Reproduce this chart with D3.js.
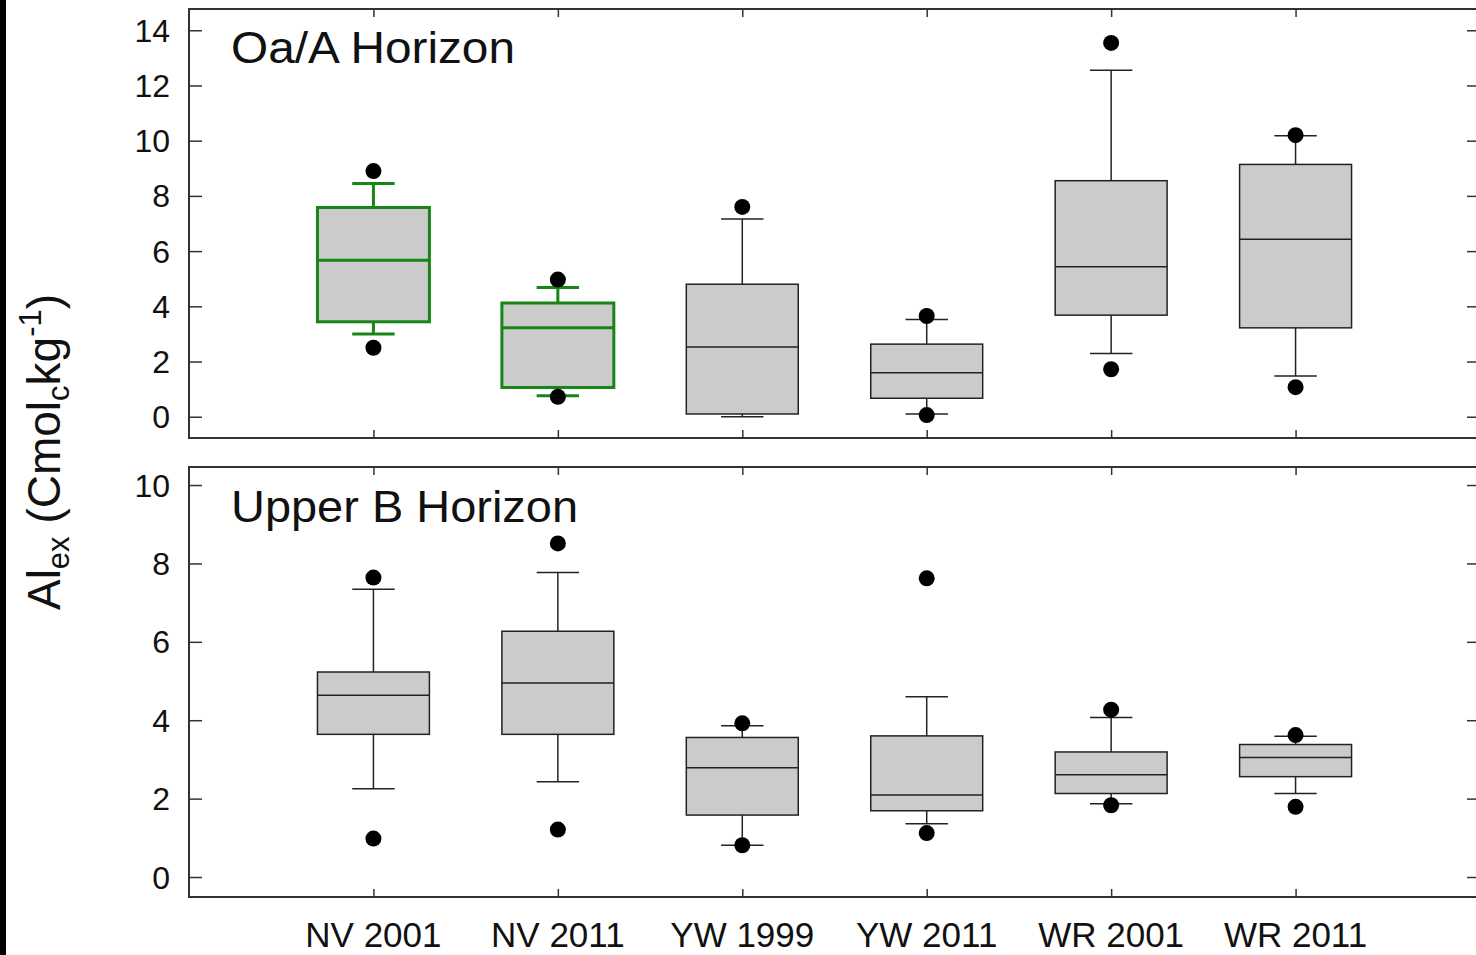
<!DOCTYPE html>
<html><head><meta charset="utf-8">
<script src="https://cdn.jsdelivr.net/npm/d3@7"></script>
<style>html,body{margin:0;padding:0;background:#fff;overflow:hidden}text{font-family:Arial,"Liberation Sans",sans-serif;fill:#111}</style>
</head><body><svg id="c" width="1476" height="955"></svg>
<script>
const categories = ["NV 2001","NV 2011","YW 1999","YW 2011","WR 2001","WR 2011"];
// Oa/A horizon: upper outlier, upper whisker, Q3, median, Q1, lower whisker, lower outlier
const oaHiOut  = [8.9, 4.97, 7.6, 3.65, 13.54, 10.2];
const oaWhHi   = [8.45, 4.68, 7.16, 3.52, 12.55, 10.18];
const oaQ3     = [7.58, 4.12, 4.8, 2.63, 8.55, 9.14];
const oaMed    = [5.67, 3.22, 2.53, 1.59, 5.43, 6.43];
const oaQ1     = [3.44, 1.06, 0.1, 0.67, 3.68, 3.22];
const oaWhLo   = [3.0, 0.76, 0.0, 0.1, 2.29, 1.48];
const oaLoOut  = [2.5, 0.72, null, 0.06, 1.72, 1.07];
const oaHighlight = [true, true, false, false, false, false];
// Upper B horizon
const bHiOut  = [7.64, 8.51, 3.92, 7.62, 4.27, 3.62];
const bWhHi   = [7.34, 7.77, 3.86, 4.60, 4.07, 3.59];
const bQ3     = [5.23, 6.27, 3.56, 3.60, 3.19, 3.38];
const bMed    = [4.64, 4.95, 2.79, 2.09, 2.61, 3.05];
const bQ1     = [3.64, 3.64, 1.58, 1.69, 2.13, 2.56];
const bWhLo   = [2.25, 2.43, 0.81, 1.36, 1.87, 2.13];
const bLoOut  = [0.98, 1.21, 0.81, 1.12, 1.83, 1.79];
const oaTicks = [0,2,4,6,8,10,12,14];
const bTicks  = [0,2,4,6,8,10];
const panelTitles = ["Oa/A Horizon","Upper B Horizon"];

const svg = d3.select("#c");
svg.append("rect").attr("x",0).attr("y",0).attr("width",1476).attr("height",955).attr("fill","#fff");
svg.append("rect").attr("x",0).attr("y",0).attr("width",6).attr("height",955).attr("fill","#000");

const L = 189, R = 1480;
const x = d3.scalePoint().domain(categories).range([L, R]).padding(1);
const step = x.step();
const boxW = step * 0.607, capW = step * 0.23;

function panel(cfg){
  const y = d3.scaleLinear().domain(cfg.domain).range([cfg.bottom, cfg.top]);
  const g = svg.append("g");
  g.append("rect").attr("x",L).attr("y",cfg.top).attr("width",R-L).attr("height",cfg.bottom-cfg.top)
    .attr("fill","none").attr("stroke","#333").attr("stroke-width",2);
  const ax = d3.axisRight(y).tickValues(cfg.ticks).tickSize(13).tickFormat("");
  const ga = g.append("g").attr("transform",`translate(${L},0)`).call(ax);
  ga.select(".domain").remove();
  ga.selectAll("line").attr("stroke","#333").attr("stroke-width",1.5);
  const axr = d3.axisLeft(y).tickValues(cfg.ticks).tickSize(13).tickFormat("");
  const gr = g.append("g").attr("transform",`translate(${R},0)`).call(axr);
  gr.select(".domain").remove();
  gr.selectAll("line").attr("stroke","#333").attr("stroke-width",1.5);
  g.selectAll(".yl").data(cfg.ticks).join("text")
    .attr("x",170).attr("y",d=>y(d)).attr("dy","0.36em").attr("text-anchor","end")
    .attr("font-size",32).text(d=>d);
  const xb = d3.axisTop(x).tickSize(8).tickFormat("");
  const gxb = g.append("g").attr("transform",`translate(0,${cfg.bottom})`).call(xb);
  gxb.select(".domain").remove();
  gxb.selectAll("line").attr("stroke","#333").attr("stroke-width",1.5);
  const xt = d3.axisBottom(x).tickSize(8).tickFormat("");
  const gxt = g.append("g").attr("transform",`translate(0,${cfg.top})`).call(xt);
  gxt.select(".domain").remove();
  gxt.selectAll("line").attr("stroke","#333").attr("stroke-width",1.5);
  g.append("text").attr("x",231).attr("y",cfg.titleY).attr("font-size",45)
    .attr("textLength",cfg.titleLen).attr("lengthAdjust","spacingAndGlyphs").text(cfg.title);
  const rows = categories.map((c,i)=>({c, hiOut:cfg.hiOut[i], whHi:cfg.whHi[i], q3:cfg.q3[i], med:cfg.med[i], q1:cfg.q1[i], whLo:cfg.whLo[i], loOut:cfg.loOut[i], hl:cfg.hl?cfg.hl[i]:false}));
  const col = d=> d.hl ? "#178617" : "#222";
  const sw = d=> d.hl ? 3 : 1.5;
  const bg = g.selectAll(".box").data(rows).join("g");
  bg.append("line").attr("x1",d=>x(d.c)).attr("x2",d=>x(d.c)).attr("y1",d=>y(d.whHi)).attr("y2",d=>y(d.q3)).attr("stroke",col).attr("stroke-width",sw);
  bg.append("line").attr("x1",d=>x(d.c)).attr("x2",d=>x(d.c)).attr("y1",d=>y(d.q1)).attr("y2",d=>y(d.whLo)).attr("stroke",col).attr("stroke-width",sw);
  bg.append("rect").attr("x",d=>x(d.c)-boxW/2).attr("width",boxW).attr("y",d=>y(d.q3)).attr("height",d=>y(d.q1)-y(d.q3))
    .attr("fill","#cbcbcb").attr("stroke",col).attr("stroke-width",sw);
  bg.append("line").attr("x1",d=>x(d.c)-boxW/2).attr("x2",d=>x(d.c)+boxW/2).attr("y1",d=>y(d.med)).attr("y2",d=>y(d.med)).attr("stroke",col).attr("stroke-width",sw);
  bg.append("line").attr("x1",d=>x(d.c)-capW/2).attr("x2",d=>x(d.c)+capW/2).attr("y1",d=>y(d.whHi)).attr("y2",d=>y(d.whHi)).attr("stroke",col).attr("stroke-width",sw);
  bg.append("line").attr("x1",d=>x(d.c)-capW/2).attr("x2",d=>x(d.c)+capW/2).attr("y1",d=>y(d.whLo)).attr("y2",d=>y(d.whLo)).attr("stroke",col).attr("stroke-width",sw);
  bg.filter(d=>d.hiOut!=null).append("circle").attr("cx",d=>x(d.c)).attr("cy",d=>y(d.hiOut)).attr("r",8).attr("fill","#000");
  bg.filter(d=>d.loOut!=null).append("circle").attr("cx",d=>x(d.c)).attr("cy",d=>y(d.loOut)).attr("r",8).attr("fill","#000");
}

panel({domain:[-0.77,14.77], top:9, bottom:438, ticks:oaTicks, title:panelTitles[0], titleY:63, titleLen:284,
  hiOut:oaHiOut, whHi:oaWhHi, q3:oaQ3, med:oaMed, q1:oaQ1, whLo:oaWhLo, loOut:oaLoOut, hl:oaHighlight});
panel({domain:[-0.51,10.46], top:467, bottom:897, ticks:bTicks, title:panelTitles[1], titleY:522, titleLen:347,
  hiOut:bHiOut, whHi:bWhHi, q3:bQ3, med:bMed, q1:bQ1, whLo:bWhLo, loOut:bLoOut});

svg.selectAll(".xl").data(categories).join("text")
  .attr("x",d=>x(d)).attr("y",947).attr("text-anchor","middle").attr("font-size",35).text(d=>d);

const yl = svg.append("text").attr("transform","translate(60,452) rotate(-90)").attr("text-anchor","middle").attr("font-size",46);
yl.append("tspan").text("Al");
yl.append("tspan").attr("font-size",31).attr("dy",9).text("ex");
yl.append("tspan").attr("dy",-9).text(" (Cmol");
yl.append("tspan").attr("font-size",31).attr("dy",9).text("c");
yl.append("tspan").attr("dy",-9).text("kg");
yl.append("tspan").attr("font-size",31).attr("dy",-19).text("-1");
yl.append("tspan").attr("dy",19).text(")");
</script></body></html>
